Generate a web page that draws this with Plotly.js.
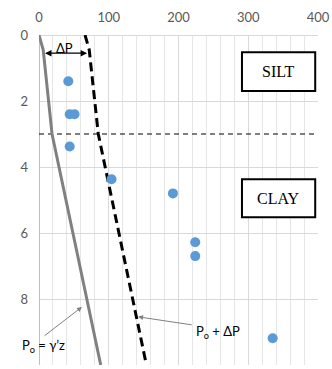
<!DOCTYPE html>
<html>
<head>
<meta charset="utf-8">
<script src="https://cdn.plot.ly/plotly-3.0.1.min.js"></script>
<style>html,body{margin:0;padding:0;background:#fff;}#chart{width:332px;height:369px;}</style>
</head>
<body>
<div id="chart"></div>
<script>
// Line depths (m) and pressures
const lineDepth = [0, 0.45, 3, 10];
const poValues = [0, 6, 18.7, 88.5];
const poPlusDPValues = [66, 72, 85, 154];
// Measured points
const pointX = [42, 44, 51, 44, 104, 192, 224, 224, 335];
const pointDepth = [1.4, 2.4, 2.4, 3.38, 4.37, 4.8, 6.28, 6.7, 9.19];
// Layer boundary
const layerDepth = [3, 3];
const layerX = [0, 400];
// Tick labels
const xTicks = [0, 100, 200, 300, 400];
const yTicks = [0, 2, 4, 6, 8, 10];

const traces = [
  {x: layerX, y: layerDepth, mode: 'lines', line: {color: '#000', width: 1.2, dash: '5px,4px'}, hoverinfo: 'skip'},
  {x: poValues, y: lineDepth, mode: 'lines', line: {color: '#808080', width: 3}},
  {x: poPlusDPValues, y: lineDepth, mode: 'lines', line: {color: '#000', width: 3, dash: '9px,5px'}},
  {x: pointX, y: pointDepth, mode: 'markers', marker: {color: '#5B9BD5', size: 10}}
];

const font = {family: 'Lato, "Open Sans", sans-serif', size: 13, color: '#595959'};
const annFont = {family: 'Lato, "Open Sans", sans-serif', size: 13, color: '#000'};
const layout = {
  width: 332, height: 369,
  margin: {l: 39, r: 14, t: 35, b: 4},
  showlegend: false,
  paper_bgcolor: '#fff', plot_bgcolor: '#fff',
  font: font,
  xaxis: {
    side: 'top', range: [0, 400], tickvals: xTicks, ticktext: xTicks.map(String),
    showgrid: true, gridcolor: '#d9d9d9', gridwidth: 1,
    minor: {dtick: 20, showgrid: true, gridcolor: '#e6e6e6', gridwidth: 1},
    zeroline: true, zerolinecolor: '#bfbfbf', zerolinewidth: 1,
    showline: false, ticks: '', fixedrange: true, tickfont: font, ticklabelstandoff: 9
  },
  yaxis: {
    range: [10, 0], tickvals: yTicks, ticktext: yTicks.map(String),
    showgrid: true, gridcolor: '#d9d9d9', gridwidth: 1,
    zeroline: true, zerolinecolor: '#d9d9d9', zerolinewidth: 1,
    showline: false, ticks: '', fixedrange: true, tickfont: font, ticklabelstandoff: 10
  },
  shapes: [
    {type: 'rect', xref: 'x', yref: 'y', x0: 291, x1: 396, y0: 0.52, y1: 1.7, line: {color: '#000', width: 2}, fillcolor: '#fff', layer: 'above'},
    {type: 'rect', xref: 'x', yref: 'y', x0: 291, x1: 396, y0: 4.37, y1: 5.52, line: {color: '#000', width: 2}, fillcolor: '#fff', layer: 'above'}
  ],
  annotations: [
    {x: 343.5, y: 1.11, xref: 'x', yref: 'y', text: 'SILT', showarrow: false, font: {family: '"Liberation Serif", "Times New Roman", serif', size: 16, color: '#000'}},
    {x: 343.5, y: 4.95, xref: 'x', yref: 'y', text: 'CLAY', showarrow: false, font: {family: '"Liberation Serif", "Times New Roman", serif', size: 16, color: '#000'}},
    {x: 69, y: 0.55, ax: 6.5, ay: 0.55, xref: 'x', yref: 'y', axref: 'x', ayref: 'y', text: '', showarrow: true, arrowhead: 2, arrowside: 'end+start', arrowsize: 1, arrowwidth: 1.3, arrowcolor: '#000', standoff: 0, startstandoff: 0},
    {x: 37, y: 0.38, xref: 'x', yref: 'y', text: 'ΔP', showarrow: false, font: annFont},
    {x: 61.6, y: 8.24, ax: 5.7, ay: 9.15, xref: 'x', yref: 'y', axref: 'x', ayref: 'y', text: '', showarrow: true, arrowhead: 2, arrowsize: 1, arrowwidth: 1, arrowcolor: '#808080', standoff: 0},
    {x: 142, y: 8.54, ax: 221, ay: 8.79, xref: 'x', yref: 'y', axref: 'x', ayref: 'y', text: '', showarrow: true, arrowhead: 2, arrowsize: 1, arrowwidth: 1, arrowcolor: '#808080', standoff: 0},
    {x: 6, y: 9.42, xref: 'x', yref: 'y', text: 'P<sub>o</sub> = γ’z', showarrow: false, xanchor: 'center', font: annFont},
    {x: 257, y: 9.0, xref: 'x', yref: 'y', text: 'P<sub>o</sub> + ΔP', showarrow: false, xanchor: 'center', font: annFont}
  ]
};

Plotly.newPlot('chart', traces, layout, {displayModeBar: false, staticPlot: true});
</script>
</body>
</html>
